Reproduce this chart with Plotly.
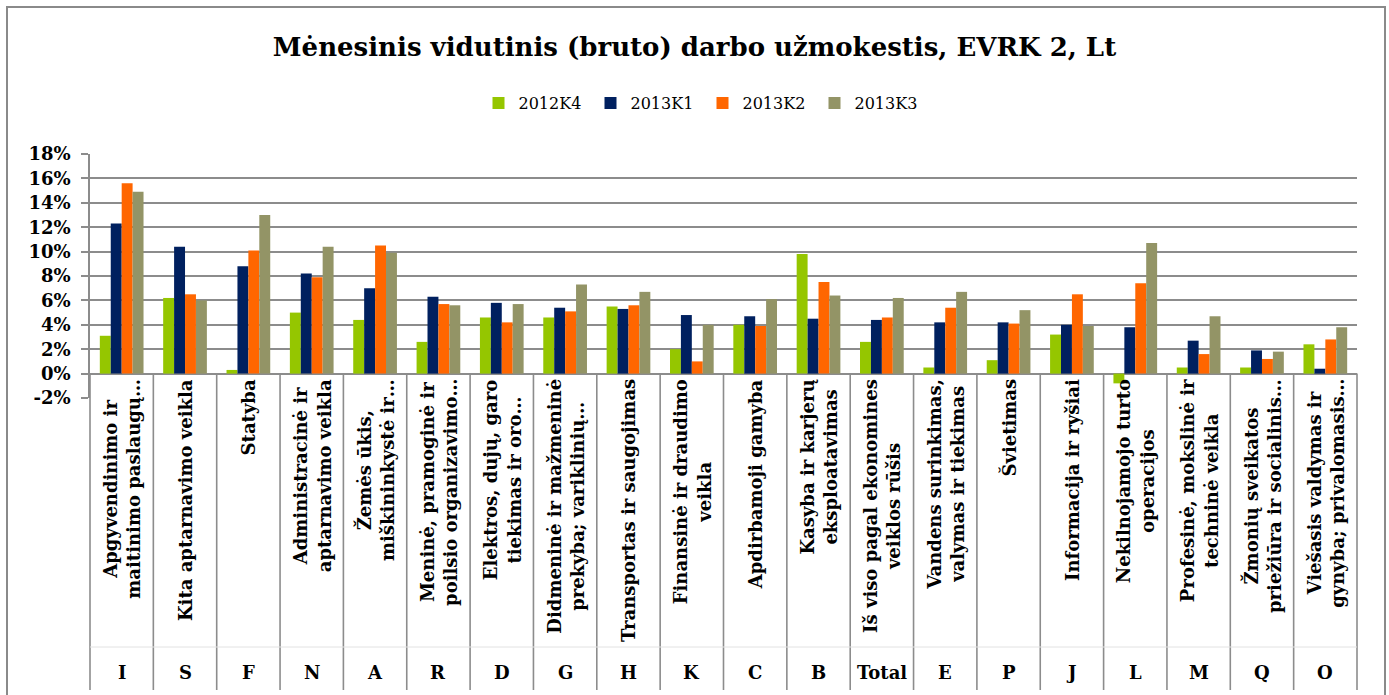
import plotly.graph_objects as go

codes = ["I", "S", "F", "N", "A", "R", "D", "G", "H", "K", "C", "B", "Total", "E", "P", "J", "L", "M", "Q", "O"]

labels = [
    "Apgyvendinimo ir<br>maitinimo paslaugų…",
    "Kita aptarnavimo veikla",
    "Statyba",
    "Administracinė ir<br>aptarnavimo veikla",
    "Žemės ūkis,<br>miškininkystė ir…",
    "Meninė, pramoginė ir<br>poilsio organizavimo…",
    "Elektros, dujų, garo<br>tiekimas ir oro…",
    "Didmeninė ir mažmeninė<br>prekyba; variklinių…",
    "Transportas ir saugojimas",
    "Finansinė ir draudimo<br>veikla",
    "Apdirbamoji gamyba",
    "Kasyba ir karjerų<br>eksploatavimas",
    "Iš viso pagal ekonomines<br>veiklos rūšis",
    "Vandens surinkimas,<br>valymas ir tiekimas",
    "Švietimas",
    "Informacija ir ryšiai",
    "Nekilnojamojo turto<br>operacijos",
    "Profesinė, mokslinė ir<br>techninė veikla",
    "Žmonių sveikatos<br>priežiūra ir socialinis…",
    "Viešasis valdymas ir<br>gynyba; privalomasis…",
]

series_names = ["2012K4", "2013K1", "2013K2", "2013K3"]
v_2012K4 = [3.1, 6.2, 0.3, 5.0, 4.4, 2.6, 4.6, 4.6, 5.5, 2.0, 4.0, 9.8, 2.6, 0.5, 1.1, 3.2, -0.8, 0.5, 0.5, 2.4]
v_2013K1 = [12.3, 10.4, 8.8, 8.2, 7.0, 6.3, 5.8, 5.4, 5.3, 4.8, 4.7, 4.5, 4.4, 4.2, 4.2, 4.0, 3.8, 2.7, 1.9, 0.4]
v_2013K2 = [15.6, 6.5, 10.1, 7.9, 10.5, 5.7, 4.2, 5.1, 5.6, 1.0, 3.9, 7.5, 4.6, 5.4, 4.1, 6.5, 7.4, 1.6, 1.2, 2.8]
v_2013K3 = [14.9, 6.0, 13.0, 10.4, 9.9, 5.6, 5.7, 7.3, 6.7, 4.0, 6.1, 6.4, 6.2, 6.7, 5.2, 3.9, 10.7, 4.7, 1.8, 3.8]
colors = ["#95C600", "#00205F", "#FF6600", "#939466"]

y_ticks = [-2, 0, 2, 4, 6, 8, 10, 12, 14, 16, 18]
y_ticktext = [f"{t}%" for t in y_ticks]

SERIF = "DejaVu Serif"
GRID = "#8c8c8c"

fig = go.Figure()
for name, vals, col in zip(series_names, [v_2012K4, v_2013K1, v_2013K2, v_2013K3], colors):
    fig.add_trace(go.Bar(x=codes, y=vals, name=name, marker=dict(color=col, line=dict(width=0))))

# plot-area geometry (pixels) used for label placement
L, R, T, B = 90, 32, 154, 297
W, H = 1389, 695
ph = H - T - B
pw = W - L - R

def py(pix):
    return (H - B - pix) / ph

def px(pix):
    return (pix - L) / pw

annotations = []
for c, lab in zip(codes, labels):
    annotations.append(dict(x=c, xref="x", y=py(377), yref="paper", text=f"<b>{lab}</b>",
                            textangle=-90, xanchor="center", yanchor="top", align="center",
                            showarrow=False, font=dict(family=SERIF, size=18, color="black")))
    annotations.append(dict(x=c, xref="x", y=py(673), yref="paper", text=f"<b>{c}</b>",
                            xanchor="center", yanchor="middle", showarrow=False,
                            font=dict(family=SERIF, size=18, color="black")))

shapes = []
zero_y = (0 - y_ticks[0]) / (y_ticks[-1] - y_ticks[0])
for i in range(len(codes) + 1):
    if i == 0 or i == len(codes):
        shapes.append(dict(type="line", xref="paper", x0=0 if i == 0 else 1, x1=0 if i == 0 else 1,
                           yref="paper", y0=zero_y, y1=py(690), line=dict(color=GRID, width=1.6)))
    else:
        shapes.append(dict(type="line", xref="x", x0=i - 0.5, x1=i - 0.5,
                           yref="paper", y0=zero_y, y1=py(690), line=dict(color=GRID, width=1.6)))
shapes.append(dict(type="line", xref="paper", x0=0, x1=1, yref="paper", y0=py(647), y1=py(647),
                   line=dict(color="#e2e2e2", width=1)))
shapes.append(dict(type="rect", xref="paper", yref="paper", x0=px(7), x1=px(1385), y0=py(7), y1=py(705),
                   line=dict(color="#8a8a8a", width=2), fillcolor="rgba(0,0,0,0)"))

fig.update_layout(
    width=W, height=H,
    margin=dict(l=L, r=R, t=T, b=B),
    paper_bgcolor="white", plot_bgcolor="white",
    barmode="group", bargap=0.31, bargroupgap=0,
    title=dict(text="<b>Mėnesinis vidutinis (bruto) darbo užmokestis, EVRK 2, Lt</b>",
               x=0.5, xanchor="center", y=1 - 47 / H, yanchor="middle",
               font=dict(family=SERIF, size=26, color="black")),
    legend=dict(orientation="h", x=px(W / 2 + 8), xanchor="center", y=py(103), yanchor="middle",
                font=dict(family=SERIF, size=16, color="black"), itemwidth=30,
                entrywidth=67, entrywidthmode="pixels",
                bgcolor="rgba(0,0,0,0)"),
    xaxis=dict(type="category", range=[-0.5, len(codes) - 0.5], showticklabels=False,
               showgrid=False, zeroline=False, showline=False, ticks=""),
    yaxis=dict(range=[y_ticks[0], y_ticks[-1]], tickvals=y_ticks, ticktext=y_ticktext,
               showgrid=True, gridcolor=GRID, gridwidth=1.6, zeroline=False,
               showline=True, linecolor=GRID, linewidth=1.6,
               ticks="outside", ticklen=7, tickcolor=GRID, tickwidth=1.6,
               ticklabelstandoff=7,
               tickfont=dict(family=SERIF, size=18, color="black", weight="bold")),
    annotations=annotations,
    shapes=shapes,
)

fig.write_html("out.html", config={"displayModeBar": False},
               post_script="document.body.style.margin='0';document.body.style.overflow='hidden';")
